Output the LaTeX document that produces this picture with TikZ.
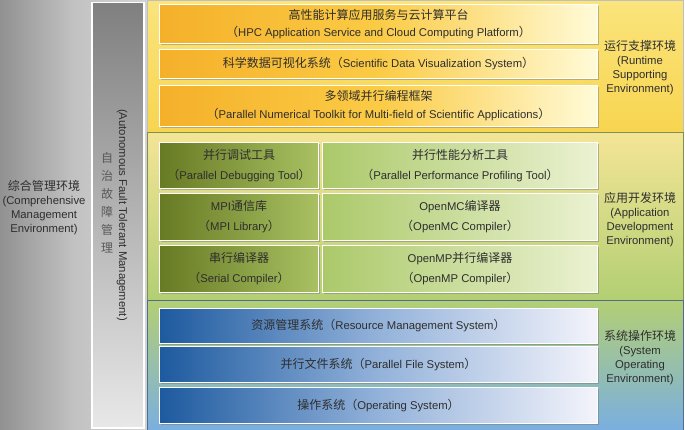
\documentclass[tikz,border=0pt]{standalone}
\usepackage{fontspec}
\setmainfont{Liberation Sans}
\newfontfamily\cjk{Noto Sans CJK SC}
\usetikzlibrary{shadows}

% colours picked from the layers
\definecolor{inkgray}{HTML}{2E2E2E}
\definecolor{runL}{HTML}{F5B02A}
\definecolor{runM}{HTML}{FBCB45}
\definecolor{runR}{HTML}{FFFBD8}
\definecolor{oliveL}{HTML}{677A24}
\definecolor{oliveR}{HTML}{A9C162}
\definecolor{leafL}{HTML}{ABC96A}
\definecolor{leafR}{HTML}{EBF2D2}
\definecolor{seaL}{HTML}{1D5A9F}
\definecolor{seaM}{HTML}{93B2DA}
\definecolor{seaR}{HTML}{F4F4FB}
\definecolor{runTop}{HTML}{FAE47C}
\definecolor{runBot}{HTML}{F8D550}
\definecolor{devTop}{HTML}{F4E596}
\definecolor{devBot}{HTML}{B3CF73}
\definecolor{sysTop}{HTML}{B3CF74}
\definecolor{sysBot}{HTML}{7AAFE0}

\newcommand{\zh}[1]{{\cjk\fontsize{12}{18}\selectfont #1}}

\begin{document}
\begin{tikzpicture}[
  x=1pt, y=-1pt,
  every node/.style={font=\fontsize{11.3}{18}\selectfont, text=inkgray,
    align=center, inner sep=0pt, anchor=north west},
  % --- background layers
  layer/.style={draw=#1, line width=0.6pt, minimum width=536pt},
  % --- boxes inside the layers
  tile/.style={draw=white, line width=1pt,
    drop shadow={shadow xshift=1.5pt, shadow yshift=-1.5pt, opacity=0.45, fill=black!55}},
  runbox/.style={tile, minimum width=438pt, left color=runL, right color=runR, middle color=runM},
  darkbox/.style={tile, minimum width=159pt, minimum height=47pt, left color=oliveL, right color=oliveR,
    font=\fontsize{11.3}{20}\selectfont},
  lightbox/.style={tile, minimum width=275pt, minimum height=47pt, left color=leafL, right color=leafR,
    font=\fontsize{11.3}{20}\selectfont},
  sysbox/.style={tile, minimum width=438pt, minimum height=36pt, left color=seaL, right color=seaR, middle color=seaM},
  sidelabel/.style={anchor=center, font=\fontsize{11.3}{14}\selectfont},
]
\useasboundingbox (0,0) rectangle (685,430);

%========================
% management columns (left)
%========================
\node[minimum width=147pt, minimum height=430pt,
  left color=black!43, right color=black!17, middle color=black!24] (mgmtbg) at (0,0) {};
\node[draw=white, line width=1.5pt, minimum width=52pt, minimum height=425pt,
  top color=black!50, bottom color=black!9,
  drop shadow={shadow xshift=-1pt, shadow yshift=-1pt, opacity=0.4}] (faultbg) at (91,2) {};

\node[sidelabel] (mgmtlabel) at (44,208)
  {\zh{综合管理环境}\\(Comprehensive\\Management\\Environment)};
\node[sidelabel, font=\fontsize{11.3}{18}\selectfont, text=black!65] (faultzh) at (107,203)
  {\zh{自}\\\zh{治}\\\zh{故}\\\zh{障}\\\zh{管}\\\zh{理}};
\node[sidelabel, rotate=-90] (faulten) at (122,215) {(Autonomous Fault Tolerant Management)};

%========================
% runtime supporting layer
%========================
\node[layer=black!25, minimum height=132pt, top color=runTop, bottom color=runBot]
  (runlayer) at (147,0) {};
\node[runbox, minimum height=39pt] (hpc) at (159,4)
  {\zh{高性能计算应用服务与云计算平台}\\[-1pt]\zh{（}HPC Application Service and Cloud Computing Platform\zh{）}};
\node[runbox, minimum height=29pt] (vis) at (159,49)
  {\zh{科学数据可视化系统（}Scientific Data Visualization System\zh{）}};
\node[runbox, minimum height=41pt] (toolkit) at (159,85)
  {\zh{多领域并行编程框架}\\\zh{（}Parallel Numerical Toolkit for Multi-field of Scientific Applications\zh{）}};
\node[sidelabel] (runlabel) at (640,68)
  {\zh{运行支撑环境}\\(Runtime\\Supporting\\Environment)};

%========================
% application development layer
%========================
\node[layer=devBot!70!black, minimum height=168pt, top color=devTop, bottom color=devBot]
  (devlayer) at (147,132) {};
\node[darkbox, minimum height=46pt] (debug) at (159,142)
  {\zh{并行调试工具}\\\zh{（}Parallel Debugging Tool\zh{）}};
\node[lightbox, minimum height=46pt] (profile) at (322,142)
  {\zh{并行性能分析工具}\\\zh{（}Parallel Performance Profiling Tool\zh{）}};
\node[darkbox] (mpi) at (159,193)
  {MPI\zh{通信库}\\\zh{（}MPI Library\zh{）}};
\node[lightbox] (openmc) at (322,193)
  {OpenMC\zh{编译器}\\\zh{（}OpenMC Compiler\zh{）}};
\node[darkbox] (serial) at (159,245)
  {\zh{串行编译器}\\\zh{（}Serial Compiler\zh{）}};
\node[lightbox] (openmp) at (322,245)
  {OpenMP\zh{并行编译器}\\\zh{（}OpenMP Compiler\zh{）}};
\node[sidelabel] (devlabel) at (640,220)
  {\zh{应用开发环境}\\(Application\\Development\\Environment)};

%========================
% system operating layer
%========================
\node[layer=seaL!50!gray, minimum height=130pt, top color=sysTop, bottom color=sysBot]
  (syslayer) at (147,300) {};
\node[sysbox, minimum height=35pt] (resource) at (159,308)
  {\zh{资源管理系统（}Resource Management System\zh{）}};
\node[sysbox] (pfs) at (159,346)
  {\zh{并行文件系统（}Parallel File System\zh{）}};
\node[sysbox] (os) at (159,387)
  {\zh{操作系统（}Operating System\zh{）}};
\node[sidelabel] (syslabel) at (640,358)
  {\zh{系统操作环境}\\(System\\Operating\\Environment)};

\end{tikzpicture}
\end{document}
